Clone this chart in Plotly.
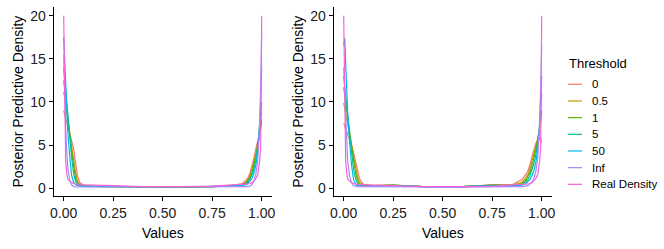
import plotly.graph_objects as go

# x grid (Values)
values_x = [0, 0.005, 0.01, 0.015, 0.02, 0.03, 0.04, 0.05, 0.06, 0.07, 0.08, 0.1, 0.15, 0.25, 0.4, 0.5,
            0.6, 0.75, 0.85, 0.9, 0.92, 0.93, 0.94, 0.95, 0.96, 0.97, 0.98, 0.985, 0.99, 0.995, 1.0]

thresholds = ["0", "0.5", "1", "5", "50", "Inf", "Real Density"]
colors = ["#F8766D", "#C49A00", "#53B400", "#00C094", "#00B6EB", "#A58AFF", "#FB61D7"]

# Left panel densities
left_t0 = [9.0, 8.5, 8.0, 7.6, 7.2, 6.4, 5.6, 4.6, 2.9, 1.4, 0.7, 0.35, 0.25, 0.2, 0.15, 0.12,
           0.15, 0.2, 0.35, 0.5, 0.9, 1.2, 1.7, 2.5, 3.4, 4.5, 5.4, 5.9, 6.3, 6.9, 7.6]
left_t05 = [11.2, 10.4, 9.6, 8.8, 8.0, 6.5, 5.2, 3.5, 1.8, 0.8, 0.45, 0.3, 0.22, 0.2, 0.15, 0.12,
            0.14, 0.2, 0.3, 0.45, 0.7, 1.0, 1.4, 2.1, 3.0, 4.0, 5.2, 6.0, 6.8, 7.8, 8.8]
left_t1 = [12.5, 11.4, 10.3, 9.2, 8.1, 6.2, 4.3, 2.6, 1.2, 0.6, 0.4, 0.28, 0.22, 0.2, 0.15, 0.12,
           0.14, 0.2, 0.3, 0.4, 0.6, 0.85, 1.2, 1.8, 2.6, 3.6, 4.8, 5.6, 6.4, 7.2, 8.0]
left_t5 = [14.0, 12.6, 11.2, 9.8, 8.5, 6.0, 3.6, 1.7, 0.8, 0.45, 0.3, 0.25, 0.22, 0.2, 0.15, 0.12,
           0.14, 0.2, 0.28, 0.35, 0.5, 0.7, 1.0, 1.5, 2.2, 3.2, 4.6, 5.8, 7.2, 8.6, 10.0]
left_t50 = [17.5, 14.5, 11.5, 9.0, 6.8, 3.8, 1.5, 0.7, 0.4, 0.3, 0.25, 0.22, 0.2, 0.2, 0.15, 0.12,
            0.14, 0.2, 0.25, 0.3, 0.4, 0.55, 0.8, 1.1, 1.7, 2.6, 4.2, 5.6, 7.8, 10.5, 14.0]
left_tinf = [15.5, 10.5, 7.0, 4.5, 2.6, 1.0, 0.4, 0.2, 0.15, 0.15, 0.15, 0.15, 0.15, 0.15, 0.12, 0.1,
             0.12, 0.15, 0.15, 0.15, 0.15, 0.18, 0.25, 0.4, 0.8, 1.6, 3.2, 4.8, 7.5, 12.0, 18.0]

# Real density (same in both panels)
real_density = [20.0, 6.5, 3.2, 1.8, 1.1, 0.8, 0.65, 0.55, 0.5, 0.45, 0.42, 0.4, 0.35, 0.3, 0.2, 0.15,
                0.18, 0.25, 0.35, 0.4, 0.45, 0.5, 0.55, 0.65, 0.85, 1.1, 1.6, 2.2, 3.2, 5.0, 20.0]

# Right panel densities
right_t0 = [7.5, 7.2, 6.9, 6.6, 6.3, 5.7, 5.0, 4.1, 3.0, 1.9, 1.1, 0.45, 0.3, 0.35, 0.2, 0.12,
            0.2, 0.4, 0.4, 1.0, 1.6, 2.0, 2.7, 3.5, 4.5, 5.2, 5.5, 5.6, 5.7, 5.8, 5.3]
right_t05 = [9.9, 9.2, 8.5, 7.9, 7.3, 6.2, 5.0, 3.8, 2.4, 1.3, 0.7, 0.35, 0.3, 0.38, 0.2, 0.1,
             0.2, 0.38, 0.35, 0.7, 1.2, 1.6, 2.2, 3.0, 3.9, 4.8, 5.8, 6.3, 6.9, 7.8, 8.8]
right_t1 = [11.7, 10.8, 9.9, 9.0, 8.1, 6.5, 4.8, 3.2, 1.8, 0.9, 0.5, 0.3, 0.3, 0.36, 0.2, 0.1,
            0.2, 0.36, 0.33, 0.55, 0.95, 1.3, 1.8, 2.5, 3.4, 4.4, 5.6, 6.4, 7.2, 8.0, 9.0]
right_t5 = [13.0, 12.0, 10.8, 9.6, 8.4, 6.2, 4.0, 2.2, 1.1, 0.55, 0.35, 0.25, 0.28, 0.34, 0.2, 0.1,
            0.2, 0.34, 0.3, 0.45, 0.75, 1.0, 1.4, 2.0, 2.8, 3.8, 5.0, 6.0, 7.2, 8.8, 11.0]
right_t50 = [16.5, 17.4, 14.5, 11.5, 8.8, 5.3, 2.6, 1.0, 0.45, 0.3, 0.25, 0.22, 0.26, 0.3, 0.2, 0.1,
             0.2, 0.3, 0.28, 0.35, 0.55, 0.75, 1.0, 1.4, 2.0, 2.9, 4.4, 5.6, 7.5, 10.0, 13.0]
right_tinf = [14.0, 11.0, 7.5, 5.0, 3.2, 1.4, 0.6, 0.3, 0.2, 0.18, 0.18, 0.18, 0.2, 0.22, 0.15, 0.1,
              0.15, 0.22, 0.2, 0.2, 0.25, 0.3, 0.45, 0.7, 1.1, 1.9, 3.5, 5.2, 8.0, 12.0, 16.5]

left_series = [left_t0, left_t05, left_t1, left_t5, left_t50, left_tinf, real_density]
right_series = [right_t0, right_t05, right_t1, right_t5, right_t50, right_tinf, real_density]

fig = go.Figure()
for name, col, ys in zip(thresholds, colors, left_series):
    fig.add_trace(go.Scatter(x=values_x, y=ys, mode="lines", name=name, legendgroup=name,
                             showlegend=False, line=dict(color=col, width=1.2),
                             xaxis="x", yaxis="y"))
for name, col, ys in zip(thresholds, colors, right_series):
    fig.add_trace(go.Scatter(x=values_x, y=ys, mode="lines", name=name, legendgroup=name,
                             showlegend=False, line=dict(color=col, width=1.2),
                             xaxis="x2", yaxis="y2"))

W, H = 664, 249
font = "Liberation Sans, Arial, Helvetica, sans-serif"
axis_common = dict(showline=True, linecolor="black", linewidth=1, ticks="outside", ticklen=4,
                   tickcolor="black", tickwidth=1, showgrid=False, zeroline=False, automargin=False,
                   tickfont=dict(size=14, color="#222", family=font))
xcommon = dict(axis_common, range=[-0.0505, 1.052], tickvals=[0, 0.25, 0.5, 0.75, 1.0],
               tickformat=".2f", title=dict(text="Values", font=dict(size=14, color="black"), standoff=8))
ycommon = dict(axis_common, range=[-0.93, 21.0], tickvals=[0, 5, 10, 15, 20],
               title=dict(text="Posterior Predictive Density", font=dict(size=14, color="black"), standoff=3))

# Manual legend (ggplot style: short keys)
annotations = [dict(text="Threshold", x=567 / W, y=1 - 63.5 / H, xref="paper", yref="paper",
                    xanchor="left", yanchor="middle", showarrow=False,
                    font=dict(size=13, color="black", family=font))]
shapes = []
item_y0, item_dy = 84.3, 16.67
for i, (name, col) in enumerate(zip(thresholds, colors)):
    yy = 1 - (item_y0 + i * item_dy) / H
    shapes.append(dict(type="line", xref="paper", yref="paper", x0=568 / W, x1=582 / W,
                       y0=yy, y1=yy, line=dict(color=col, width=1.2)))
    annotations.append(dict(text=name, x=590 / W, y=yy, xref="paper", yref="paper",
                            xanchor="left", yanchor="middle", showarrow=False,
                            font=dict(size=11.5, color="black", family=font)))

fig.update_layout(
    width=W, height=H,
    margin=dict(l=0, r=0, t=0, b=0),
    paper_bgcolor="white", plot_bgcolor="white",
    font=dict(family=font, color="black"),
    showlegend=False,
    xaxis=dict(xcommon, domain=[53.7 / W, 272 / W], anchor="y"),
    yaxis=dict(ycommon, domain=[1 - 196.3 / H, 1 - 7 / H], anchor="x"),
    xaxis2=dict(xcommon, domain=[333.7 / W, 552 / W], anchor="y2"),
    yaxis2=dict(ycommon, domain=[1 - 196.3 / H, 1 - 7 / H], anchor="x2"),
    annotations=annotations,
    shapes=shapes,
)

fig.write_html("out.html", config={"displayModeBar": False},
               post_script="document.body.style.margin='0px';document.body.style.overflow='hidden';")
